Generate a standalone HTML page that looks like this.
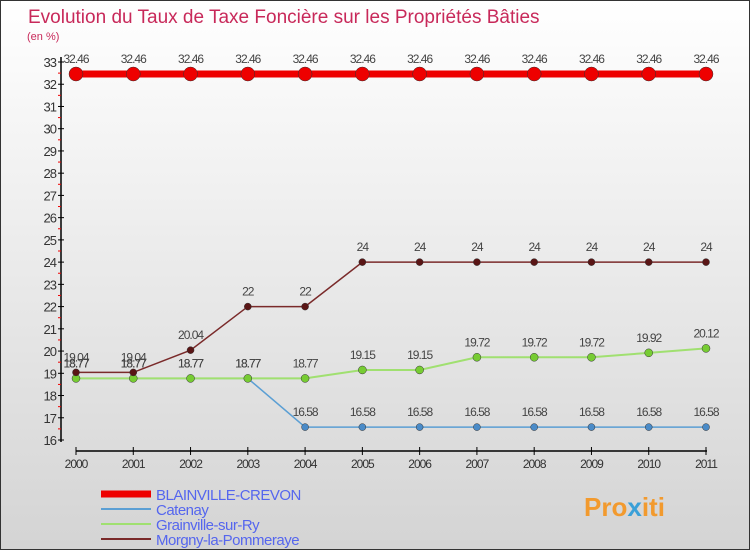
<!DOCTYPE html>
<html><head><meta charset="utf-8"><style>
body{margin:0}
#c{width:750px;height:550px;position:relative;background:linear-gradient(#ffffff,#d4d4d4);border:1px solid #333;box-sizing:border-box;font-family:"Liberation Sans",sans-serif;overflow:hidden}
</style></head><body>
<div id="c">
<svg width="750" height="550" id="s">
<text x="27" y="22" font-size="19" fill="#c8295a">Evolution du Taux de Taxe Foncière sur les Propriétés Bâties</text>
<text x="26" y="39" font-size="11" fill="#c8295a">(en %)</text>
<g id="ax"></g>
<g id="marks"></g>
<g id="leg"></g>
<text x="583" y="515" font-size="26" font-weight="bold" fill="#f29a2e">Pro<tspan fill="#3aa0d8">x</tspan>iti</text>
</svg>
</div>
<script>
const years=[2000,2001,2002,2003,2004,2005,2006,2007,2008,2009,2010,2011];
const blainville=[32.46,32.46,32.46,32.46,32.46,32.46,32.46,32.46,32.46,32.46,32.46,32.46];
const catenay=[18.77,18.77,18.77,18.77,16.58,16.58,16.58,16.58,16.58,16.58,16.58,16.58];
const grainville=[18.77,18.77,18.77,18.77,18.77,19.15,19.15,19.72,19.72,19.72,19.92,20.12];
const morgny=[19.04,19.04,20.04,22,22,24,24,24,24,24,24,24];
const yTicks=[16,17,18,19,20,21,22,23,24,25,26,27,28,29,30,31,32,33];
const NS='http://www.w3.org/2000/svg';
const X=i=>75+i*(630/11);
const Y=v=>61+(33-v)*(378/17);
function mk(p,t,a){const e=document.createElementNS(NS,t);for(const k in a)e.setAttribute(k,a[k]);p.appendChild(e);return e;}
const ax=document.getElementById('ax'),mg=document.getElementById('marks'),lg=document.getElementById('leg');
let l=mk(ax,'line',{x1:60,y1:56,x2:60,y2:441,stroke:'#000','stroke-width':1.5});


l=mk(ax,'line',{x1:75,y1:450,x2:706,y2:450,stroke:'#000','stroke-width':1.5});


yTicks.forEach(v=>{
 mk(ax,'line',{x1:57,x2:63,y1:Y(v),y2:Y(v),stroke:'#000'});
 if(v<33)mk(ax,'line',{x1:57,x2:60,y1:Y(v+0.5),y2:Y(v+0.5),stroke:'#e00'});
 const t=mk(ax,'text',{x:55,y:Y(v)+5,'text-anchor':'end','font-size':13,fill:'#333','letter-spacing':'-1'});
 t.textContent=v;
 
 
});
years.forEach((y,i)=>{
 mk(ax,'line',{x1:X(i),x2:X(i),y1:446,y2:454,stroke:'#000'});
 const t=mk(ax,'text',{x:X(i),y:467,'text-anchor':'middle','font-size':12,fill:'#333','letter-spacing':'-1'});
 t.textContent=y;
 
 
});
const series=[
 {name:'Catenay',d:catenay,c:'#5b9fd4',f:'#4a8bc8',w:1.5,r:3.5},
 {name:'Grainville-sur-Ry',d:grainville,c:'#a0e070',f:'#77cc33',w:2,r:4},
 {name:'Morgny-la-Pommeraye',d:morgny,c:'#7a2a2a',f:'#5a1515',w:1.5,r:3.5},
 {name:'BLAINVILLE-CREVON',d:blainville,c:'#ee0000',f:'#ee0000',w:7,r:7}
];
series.forEach(s=>{
 const g=mk(mg,'g',{});
 
 
 mk(g,'polyline',{points:s.d.map((v,i)=>X(i)+','+Y(v)).join(' '),fill:'none',stroke:s.c,'stroke-width':s.w});
 s.d.forEach((v,i)=>{
  const p=mk(g,'circle',{cx:X(i),cy:Y(v),r:s.r,fill:s.f,stroke:'#333','stroke-width':0.5});
  
  
  const t=mk(g,'text',{x:X(i),y:Y(v)-11,'text-anchor':'middle','font-size':12,fill:'#444','letter-spacing':'-1'});
  t.textContent=v;
  
  
 });
});
const legs=[['BLAINVILLE-CREVON','#ee0000',7],['Catenay','#5b9fd4',2],['Grainville-sur-Ry','#a0e070',2],['Morgny-la-Pommeraye','#7a2a2a',2]];
legs.forEach((e,i)=>{
 const y=493+i*15;
 const g=mk(lg,'g',{});
 
 
 mk(g,'line',{x1:100,x2:150,y1:y,y2:y,stroke:e[1],'stroke-width':e[2]});
 const t=mk(g,'text',{x:155,y:y+6,'font-size':15,fill:'#5566ee','letter-spacing':'-0.5'});
 t.textContent=e[0];
});
</script>
</body></html>
